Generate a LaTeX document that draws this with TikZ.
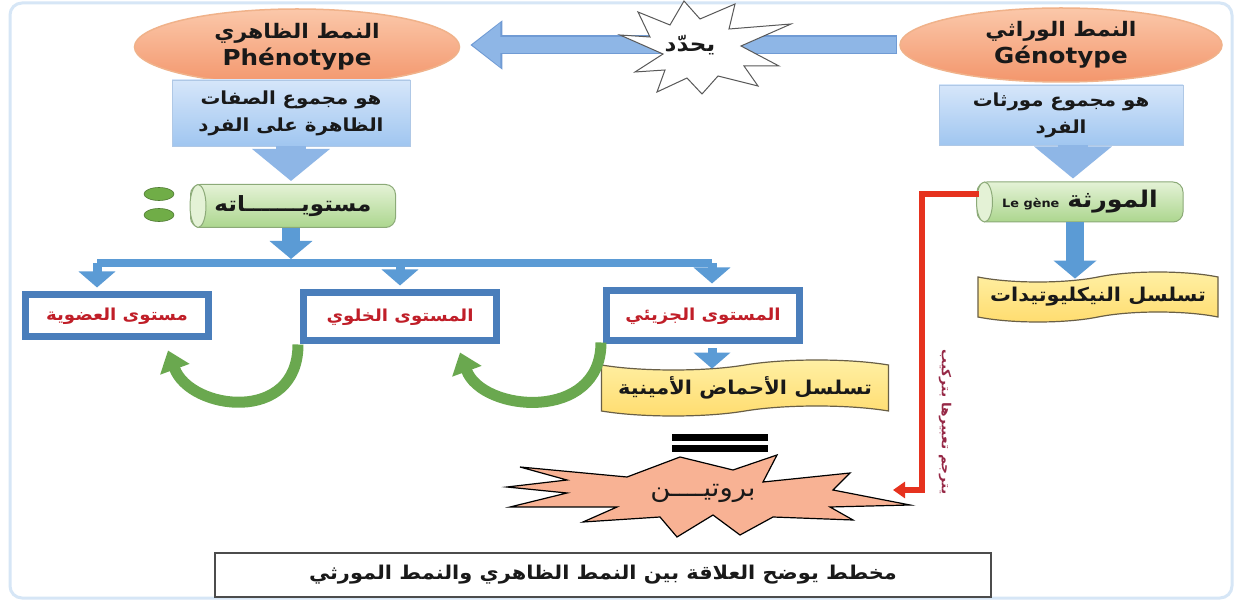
\documentclass[tikz,border=0pt]{standalone}
\usepackage{fontspec}
\setmainfont{DejaVu Sans}
\newfontfamily\ar[Script=Arabic,FakeStretch=1.1]{DejaVu Sans}
\newfontfamily\latw[FakeStretch=1.12]{DejaVu Sans}
\TeXXeTstate=1
\usetikzlibrary{shapes.geometric,shapes.symbols,arrows.meta,calc}
\definecolor{salmonT}{RGB}{251,200,170}
\definecolor{salmonB}{RGB}{243,150,108}
\definecolor{ellBorder}{RGB}{240,178,138}
\definecolor{defT}{RGB}{214,230,250}
\definecolor{defB}{RGB}{160,198,240}
\definecolor{defBorder}{RGB}{175,200,230}
\definecolor{lightArrow}{RGB}{142,182,230}
\definecolor{lightArrowEdge}{RGB}{112,155,212}
\definecolor{midArrow}{RGB}{91,155,213}
\definecolor{frameBlue}{RGB}{74,126,187}
\definecolor{cylT}{RGB}{228,242,214}
\definecolor{cylB}{RGB}{172,214,142}
\definecolor{cylBorder}{RGB}{140,170,120}
\definecolor{dotGreen}{RGB}{112,173,71}
\definecolor{greenArrow}{RGB}{106,168,79}
\definecolor{tapeT}{RGB}{255,240,165}
\definecolor{tapeB}{RGB}{255,220,110}
\definecolor{tapeBorder}{RGB}{105,95,70}
\definecolor{textRed}{RGB}{192,30,40}
\definecolor{redLine}{RGB}{230,50,30}
\definecolor{protFill}{RGB}{248,178,148}
\definecolor{vertText}{RGB}{150,40,70}
\definecolor{pageFrame}{RGB}{214,230,246}
\definecolor{darkText}{RGB}{25,25,25}
\begin{document}
\begin{tikzpicture}[x=1pt,y=-1pt,
  ellnode/.style={ellipse, draw=ellBorder, line width=1.5pt, top color=salmonT, bottom color=salmonB,
     minimum width=325pt, minimum height=76pt, align=center, text=darkText, inner sep=0pt},
  defbox/.style={rectangle, draw=defBorder, line width=0.8pt, top color=defT, bottom color=defB,
     align=center, text=darkText, inner sep=0pt, font=\ar\bfseries\fontsize{18}{27}\selectfont},
  cylbox/.style={rectangle, rounded corners=10pt, draw=cylBorder, line width=1pt, top color=cylT,
     bottom color=cylB, text=darkText, inner sep=0pt},
  cylface/.style={draw=cylBorder, line width=1pt, fill=cylT},
  dotShape/.style={fill=dotGreen, draw=dotGreen!70!black, line width=0.6pt},
  lvlbox/.style={rectangle, draw=frameBlue, line width=7pt, fill=white, text=textRed,
     inner sep=0pt, font=\ar\bfseries\fontsize{16.5}{18}\selectfont},
  tapebox/.style={tape, tape bend top=in and out, tape bend bottom=in and out, tape bend height=10pt,
     draw=tapeBorder, line width=1.2pt, top color=tapeT, bottom color=tapeB, text=darkText,
     inner sep=0pt, font=\ar\bfseries\fontsize{19}{21}\selectfont},
  bigArrEdge/.style={draw=lightArrowEdge, line width=19pt, -{Triangle[width=47pt,length=32pt]}},
  bigArr/.style={draw=lightArrow, line width=16pt, -{Triangle[width=42pt,length=28pt]}},
  defArr/.style={draw=lightArrow, line width=30pt, -{Triangle[width=76pt,length=32pt]}},
  midArr/.style={draw=midArrow, line width=18pt, -{Triangle[width=42pt,length=18pt]}},
  lvlArr/.style={draw=midArrow, line width=9pt, -{Triangle[width=36pt,length=16pt]}},
  barLine/.style={draw=midArrow, line width=8pt, line cap=square},
  grnArr/.style={draw=greenArrow, line width=11pt, -{Triangle[width=30pt,length=20pt]}},
  redPath/.style={draw=redLine, line width=6pt, -{Triangle[width=16pt,length=12pt]}},
  starPoly/.style={draw=gray!70!black, line width=1pt, fill=white},
  protPoly/.style={draw=black, line width=1.2pt, fill=protFill},
  eqBar/.style={fill=black},
  capBox/.style={rectangle, draw=gray!60!black, line width=1.6pt, fill=white, text=darkText,
     inner sep=0pt, font=\ar\bfseries\fontsize{19}{21}\selectfont}
]
\useasboundingbox (0,0) rectangle (1243,601);
\fill[white] (0,0) rectangle (1243,601);
\draw[pageFrame, line width=3pt, rounded corners=12pt] (10,3) rectangle (1232,598);

% top ellipses
\node[ellnode] (phen) at (297,47)
  {{\ar\bfseries\fontsize{20}{22}\selectfont\beginR النمط الظاهري\endR}\\[3pt]
   {\latw\bfseries\fontsize{22}{22}\selectfont Phénotype}};
\node[ellnode, minimum width=322pt, minimum height=74pt] (geno) at (1061,45)
  {{\ar\bfseries\fontsize{20}{22}\selectfont\beginR النمط الوراثي\endR}\\[3pt]
   {\latw\bfseries\fontsize{22}{22}\selectfont Génotype}};

% top arrow and star
\draw[bigArrEdge] ($(geno.west)+(-2,0)$) -- ($(geno.west -| phen.east)+(10,0)$);
\draw[bigArr] ($(geno.west)+(-3,0)$) -- ($(geno.west -| phen.east)+(12,0)$);
\coordinate (star) at (690,45);
\draw[starPoly] ($(star)+(-70,-10)$) -- ++(30,2) -- ++(-12,-25) -- ++(32,13) -- ++(14,-24)
  -- ++(16,18) -- ++(35,-15) -- ++(-6,25) -- ++(62,-5) -- ++(-50,22) -- ++(38,20) -- ++(-35,0)
  -- ++(14,20) -- ++(-40,-10) -- ++(-16,18) -- ++(-15,-16) -- ++(-30,14) -- ++(8,-22)
  -- ++(-30,2) -- ++(28,-18) -- cycle;
\node[inner sep=0pt, font=\ar\bfseries\fontsize{21}{23}\selectfont, text=darkText] (starText) at (star)
  {\beginR يحدّد\endR};

% definition boxes
\node[defbox, minimum width=238pt, minimum height=66pt] (phenDef) at (291,113)
  {\beginR هو مجموع الصفات\endR\\ \beginR الظاهرة على الفرد\endR};
\node[defbox, minimum width=244pt, minimum height=60pt] (genoDef) at (1061,115)
  {\beginR هو مجموع مورثات\endR\\ \beginR الفرد\endR};

% cylinders
\node[cylbox, minimum width=205pt, minimum height=43pt,
      font=\ar\bfseries\fontsize{21}{23}\selectfont] (cylL) at (293,206)
  {\beginR مستويـــــــاته\endR};
\draw[cylface] ($(cylL.west)+(8,0)$) ellipse [x radius=8pt, y radius=21.5pt];
\draw[dotShape] ($(cylL.west)+(-31,-12)$) ellipse [x radius=15pt, y radius=6.5pt];
\draw[dotShape] ($(cylL.west)+(-31,9)$) ellipse [x radius=15pt, y radius=6.5pt];

\node[cylbox, minimum width=206pt, minimum height=40pt] (cylR) at (1080,202)
  {{\latw\bfseries\fontsize{11.5}{12}\selectfont Le gène}\hspace{8pt}{\ar\bfseries\fontsize{23}{24}\selectfont\beginR المورثة\endR}};
\draw[cylface] ($(cylR.west)+(8,0)$) ellipse [x radius=8pt, y radius=20pt];

% arrows from definitions
\draw[defArr] (phenDef.south) -- ($(cylL.north)+(-2,-3)$);
\draw[defArr] ($(genoDef.south)+(12,0)$) -- ($(genoDef.south |- cylR.north)+(12,-3)$);

% nucleotide tape
\node[tapebox, minimum width=240pt, minimum height=50pt] (tapeR) at (1098,297)
  {\beginR تسلسل النيكليوتيدات\endR};
\draw[midArr] ($(cylR.south)+(-5,0)$) -- ($(cylR.south |- tapeR.north)+(-5,2)$);

% levels
\coordinate (barL) at (97,263);
\coordinate (barR) at (712,263);
\draw[midArr] ($(cylL.south)+(-2,0)$) -- ($(cylL.south |- barL)+(-2,-4)$);
\draw[barLine] (barL) -- (barR);
\node[lvlbox, minimum width=183pt, minimum height=42pt] (boxOrg) at (117,316) {\beginR مستوى العضوية\endR};
\node[lvlbox, minimum width=193pt, minimum height=48pt] (boxCell) at (400,317) {\beginR المستوى الخلوي\endR};
\node[lvlbox, minimum width=193pt, minimum height=50pt] (boxMol) at (703,316) {\beginR المستوى الجزيئي\endR};
\coordinate (barM) at (boxCell.north |- barL);
\draw[lvlArr] (barL) -- ($(barL |- boxOrg.north)+(0,-4)$);
\draw[lvlArr] (barM) -- ($(boxCell.north)+(0,-4)$);
\draw[lvlArr] (barR) -- ($(barR |- boxMol.north)+(0,-4)$);

% amino acid tape
\node[tapebox, minimum width=287pt, minimum height=56pt] (tapeM) at (745,388)
  {\beginR تسلسل الأحماض الأمينية\endR};
\draw[lvlArr] ($(boxMol.south)+(9,4)$) -- ($(boxMol.south |- tapeM.north)+(9,4)$);

% green curved arrows
\draw[grnArr] ($(boxCell.south west)+(-2,0)$) .. controls +(0,80) and +(22,60) .. ($(boxOrg.south east)+(-44,10)$);
\draw[grnArr] ($(boxMol.south west)+(-2,-2)$) .. controls +(0,80) and +(22,60) .. ($(boxCell.south east)+(-40,8)$);

% equals sign
\fill[eqBar] (672,434) rectangle (768,441);
\fill[eqBar] (672,445) rectangle (768,452);

% protein star
\coordinate (prot) at (705,495);
\draw[protPoly] ($(prot)+(-185,-28)$) -- ++(107,10) -- ++(53,-20) -- ++(53,13) -- ++(44,-15)
  -- ++(-14,27) -- ++(87,-9) -- ++(-17,17) -- ++(77,15) -- ++(-80,2) -- ++(23,13) -- ++(-80,-3)
  -- ++(-33,18) -- ++(-27,-20) -- ++(-36,22) -- ++(-17,-20) -- ++(-77,5) -- ++(34,-15)
  -- ++(-107,0) -- ++(57,-14) -- ++(-60,-6) -- ++(60,-7) -- cycle;
\node[font=\ar\fontsize{25}{27}\selectfont, text=darkText, inner sep=0pt] (protText) at ($(prot)+(-2,-2)$)
  {\beginR بروتيــــن\endR};
\coordinate (protR) at ($(prot)+(188,-5)$);

% red translation line
\draw[redPath] ($(cylR.west)+(2,-8)$) -- ++(-57,0) |- (protR);
\node[rotate=-90, font=\ar\bfseries\fontsize{12.5}{14}\selectfont, text=vertText, inner sep=0pt] (trans) at (945,422)
  {\beginR يترجم تعبيرها بتركيب\endR};

% caption
\node[capBox, minimum width=776pt, minimum height=44pt] (cap) at (603,575)
  {\beginR مخطط يوضح العلاقة بين النمط الظاهري والنمط المورثي\endR};
\end{tikzpicture}
\end{document}
